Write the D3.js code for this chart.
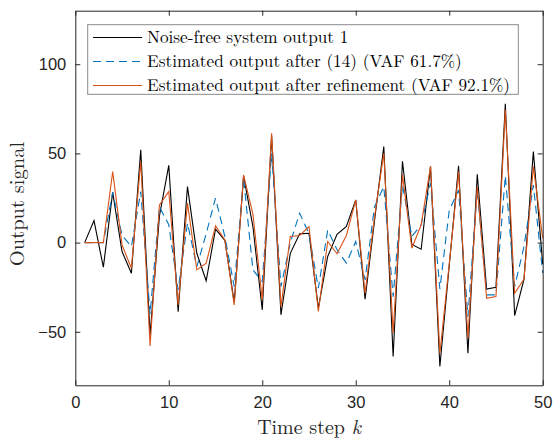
<!DOCTYPE html>
<html>
<head>
<meta charset="utf-8">
<script src="https://cdn.jsdelivr.net/npm/d3@7"></script>
<style>
  html, body { margin: 0; padding: 0; background: #fff; }
  svg { display: block; }
</style>
</head>
<body>
<svg id="chart" width="553" height="439"></svg>
<script>
// ---- data ----
const steps = d3.range(1, 51);
const noiseFree = [0, 12.3, -13.8, 28.2, -5, -17.2, 52, -52, 15, 43.3,
  -38.7, 31.4, -6, -21.4, 7.5, 1.3, -33.5, 37.4, 9, -37.7,
  60, -40.5, -6, 4.9, 5.2, -36.7, -7.8, 4.6, 9, 23.9,
  -31.7, 12, 53.8, -63.9, 45.6, -1, -3.7, 42.8, -69.5, -13,
  43, -62, 38.3, -26.1, -25, 77.8, -40.9, -20.5, 51, -12];
const estInitial = [0, 0, 0, 28.2, 4, -2.2, 28.6, -40, 20, 10,
  -26.5, 10.9, -13.5, 5, 24.9, 3.4, -24.7, 36, -15.3, -21.9,
  50, -24.7, 0, 16.5, 5, -25.6, 7, -4, -11.5, 0.6,
  -20.9, 20, 31.4, -30.3, 32.3, 3.4, 10, 33.3, -26, 18,
  29.5, -41.5, 29.5, -29.3, -29.3, 37.4, -24.7, -2.2, 32.3, -17];
const estRefined = [0, 0, 0, 39.8, -1.3, -14.4, 45.4, -57.9, 21.1, 28.6,
  -35, 22.1, -15.3, -11.5, 9.4, 1.5, -35, 37.9, 16, -32,
  61.3, -35.9, 3.4, 4, 9, -38.6, 0.6, -6.3, 4, 23.9,
  -28.4, 14, 50.1, -50.8, 38, -3.2, 10, 42.8, -62, -12,
  39.8, -53.6, 31.4, -31.2, -30.3, 74.4, -28.4, -20.5, 42.6, 2.5];
const xTicks = [0, 10, 20, 30, 40, 50];
const yTicks = [-50, 0, 50, 100];
const legendLabels = [
  "Noise-free system output 1",
  "Estimated output after (14) (VAF 61.7%)",
  "Estimated output after refinement (VAF 92.1%)"
];

// ---- layout ----
const svg = d3.select("#chart");
const L = 75.3, R = 542.7, T = 10.7, B = 385.3;
const x = d3.scaleLinear().domain([0, 50]).range([L, R]);
const y = d3.scaleLinear().domain([-80, 130]).range([B, T]);
const axisColor = "#262626";
const tickFont = "'Liberation Sans', Arial, sans-serif";
const serif = "'Latin Modern Roman', 'Liberation Serif', 'Times New Roman', serif";

const series = [
  { name: legendLabels[0], values: noiseFree, color: "#000000", dash: null },
  { name: legendLabels[1], values: estInitial, color: "#0072BD", dash: "8,5" },
  { name: legendLabels[2], values: estRefined, color: "#D95319", dash: null }
];

const line = d3.line().x((d, i) => x(steps[i])).y(d => y(d));
const g = svg.append("g");
series.forEach(s => {
  g.append("path")
    .datum(s.values)
    .attr("d", line)
    .attr("fill", "none")
    .attr("stroke", s.color)
    .attr("stroke-width", 1.1)
    .attr("stroke-dasharray", s.dash);
});

// axes (ticks inside, box)
const tickLen = 5;
const xAxisB = d3.axisBottom(x).tickValues(xTicks).tickSizeInner(-tickLen).tickSizeOuter(0).tickPadding(11);
const xAxisT = d3.axisTop(x).tickValues(xTicks).tickSizeInner(-tickLen).tickSizeOuter(0).tickFormat("");
const yAxisL = d3.axisLeft(y).tickValues(yTicks).tickSizeInner(-tickLen).tickSizeOuter(0).tickPadding(9);
const yAxisR = d3.axisRight(y).tickValues(yTicks).tickSizeInner(-tickLen).tickSizeOuter(0).tickFormat("");

function style(sel) {
  sel.selectAll("path").attr("stroke", axisColor).attr("stroke-width", 1);
  sel.selectAll("line").attr("stroke", axisColor).attr("stroke-width", 1);
  sel.selectAll("text").attr("fill", axisColor).attr("font-family", tickFont).attr("font-size", 16.5);
}
svg.append("g").attr("transform", `translate(0,${B})`).call(xAxisB).call(style);
svg.append("g").attr("transform", `translate(0,${T})`).call(xAxisT).call(style);
svg.append("g").attr("transform", `translate(${L},0)`).call(yAxisL).call(style);
svg.append("g").attr("transform", `translate(${R},0)`).call(yAxisR).call(style);

// axis labels
const xl = svg.append("text")
  .attr("x", (L + R) / 2).attr("y", 434)
  .attr("text-anchor", "middle")
  .attr("font-family", serif).attr("font-size", 20).attr("fill", axisColor);
xl.append("tspan").text("Time step ");
xl.append("tspan").attr("font-style", "italic").text("k");

svg.append("text")
  .attr("transform", `translate(24,${(T + B) / 2 + 6}) rotate(-90)`)
  .attr("text-anchor", "middle")
  .attr("font-family", serif).attr("font-size", 20.5).attr("fill", axisColor)
  .text("Output signal");

// legend
const lg = svg.append("g");
lg.append("rect")
  .attr("x", 87.7).attr("y", 24.7).attr("width", 430.6).attr("height", 69.6)
  .attr("fill", "#fff").attr("stroke", "#8a8a8a").attr("stroke-width", 1);
series.forEach((s, i) => {
  const yy = 37.5 + i * 24;
  lg.append("line")
    .attr("x1", 93).attr("x2", 142).attr("y1", yy).attr("y2", yy)
    .attr("stroke", s.color).attr("stroke-width", 1)
    .attr("stroke-dasharray", s.dash);
  lg.append("text")
    .attr("x", 147).attr("y", yy).attr("dy", "0.32em")
    .attr("font-family", serif).attr("font-size", 17.2).attr("fill", "#000")
    .text(s.name);
});
</script>
</body>
</html>
